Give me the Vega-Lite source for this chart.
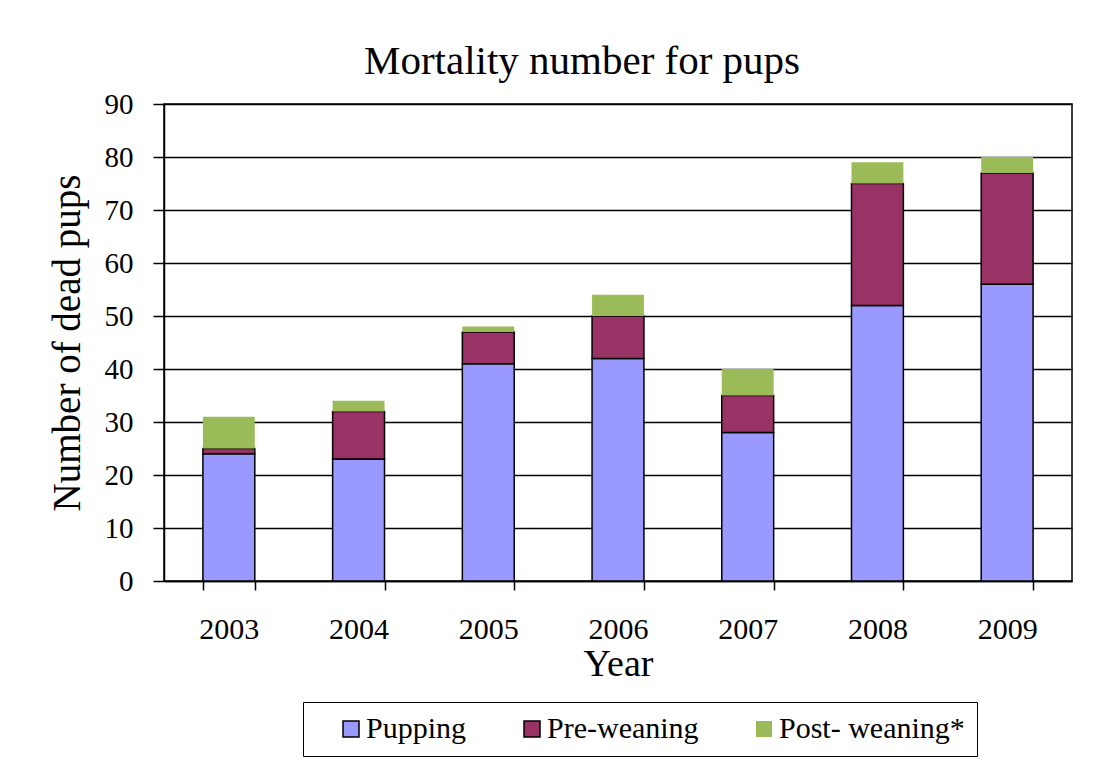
{
  "$schema": "https://vega.github.io/schema/vega-lite/v6.json",
  "width": 908,
  "height": 477,
  "autosize": {"type": "none"},
  "padding": {"left": 164, "top": 104, "right": 24, "bottom": 197},
  "background": "white",
  "title": {
    "text": "Mortality number for pups",
    "font": "Liberation Serif",
    "fontSize": 41,
    "fontWeight": "normal",
    "color": "black",
    "frame": "group",
    "anchor": "middle",
    "dx": -36,
    "offset": 7
  },
  "data": {
    "values": [
      {"year": "2003", "stage": "Pupping", "k": 1, "count": 24},
      {"year": "2003", "stage": "Pre-weaning", "k": 2, "count": 1},
      {"year": "2003", "stage": "Post- weaning*", "k": 3, "count": 6},
      {"year": "2004", "stage": "Pupping", "k": 1, "count": 23},
      {"year": "2004", "stage": "Pre-weaning", "k": 2, "count": 9},
      {"year": "2004", "stage": "Post- weaning*", "k": 3, "count": 2},
      {"year": "2005", "stage": "Pupping", "k": 1, "count": 41},
      {"year": "2005", "stage": "Pre-weaning", "k": 2, "count": 6},
      {"year": "2005", "stage": "Post- weaning*", "k": 3, "count": 1},
      {"year": "2006", "stage": "Pupping", "k": 1, "count": 42},
      {"year": "2006", "stage": "Pre-weaning", "k": 2, "count": 8},
      {"year": "2006", "stage": "Post- weaning*", "k": 3, "count": 4},
      {"year": "2007", "stage": "Pupping", "k": 1, "count": 28},
      {"year": "2007", "stage": "Pre-weaning", "k": 2, "count": 7},
      {"year": "2007", "stage": "Post- weaning*", "k": 3, "count": 5},
      {"year": "2008", "stage": "Pupping", "k": 1, "count": 52},
      {"year": "2008", "stage": "Pre-weaning", "k": 2, "count": 23},
      {"year": "2008", "stage": "Post- weaning*", "k": 3, "count": 4},
      {"year": "2009", "stage": "Pupping", "k": 1, "count": 56},
      {"year": "2009", "stage": "Pre-weaning", "k": 2, "count": 21},
      {"year": "2009", "stage": "Post- weaning*", "k": 3, "count": 3}
    ]
  },
  "mark": {"type": "bar", "strokeWidth": 1.5},
  "encoding": {
    "x": {
      "field": "year",
      "type": "ordinal",
      "scale": {"paddingInner": 0.6, "paddingOuter": 0.3},
      "axis": {
        "title": "Year",
        "labelAngle": 0,
        "tickBand": "extent",
        "tickSize": 9,
        "tickColor": "black",
        "tickWidth": 1.5,
        "domainColor": "black",
        "domainWidth": 1.5,
        "labelFontSize": 30,
        "labelPadding": 24,
        "titleFontSize": 38,
        "titlePadding": 1,
        "grid": false
      }
    },
    "y": {
      "field": "count",
      "type": "quantitative",
      "stack": "zero",
      "scale": {"domain": [0, 90], "nice": false},
      "axis": {
        "title": "Number of dead pups",
        "values": [0, 10, 20, 30, 40, 50, 60, 70, 80, 90],
        "tickSize": 11,
        "tickColor": "black",
        "tickWidth": 1.5,
        "domainColor": "black",
        "domainWidth": 1.5,
        "labelFontSize": 29,
        "labelPadding": 20,
        "titleFontSize": 39,
        "titlePadding": 17,
        "grid": true,
        "gridColor": "black",
        "gridWidth": 1.5,
        "gridOpacity": 1
      }
    },
    "color": {
      "field": "stage",
      "type": "nominal",
      "sort": ["Pupping", "Pre-weaning", "Post- weaning*"],
      "scale": {
        "domain": ["Pupping", "Pre-weaning", "Post- weaning*"],
        "range": ["#9999FF", "#993366", "#9BBB59"]
      },
      "legend": {
        "title": null,
        "orient": "none",
        "legendX": 139,
        "legendY": 598,
        "direction": "horizontal",
        "strokeColor": "black",
        "padding": 12,
        "symbolOffset": 21,
        "symbolType": "square",
        "symbolSize": 256,
        "symbolStrokeWidth": 1.5,
        "labelFontSize": 30,
        "labelFont": "Liberation Serif",
        "labelColor": "black",
        "labelOffset": 0,
        "columnPadding": 29,
        "labelLimit": 400
      }
    },
    "stroke": {
      "field": "stage",
      "type": "nominal",
      "sort": ["Pupping", "Pre-weaning", "Post- weaning*"],
      "scale": {
        "domain": ["Pupping", "Pre-weaning", "Post- weaning*"],
        "range": ["black", "black", "transparent"]
      }
    },
    "order": {"field": "k", "type": "quantitative"}
  },
  "config": {
    "font": "Liberation Serif",
    "view": {"stroke": "black", "strokeWidth": 1.5},
    "axis": {
      "labelFont": "Liberation Serif",
      "titleFont": "Liberation Serif",
      "labelColor": "black",
      "titleColor": "black",
      "titleFontWeight": "normal"
    }
  }
}
